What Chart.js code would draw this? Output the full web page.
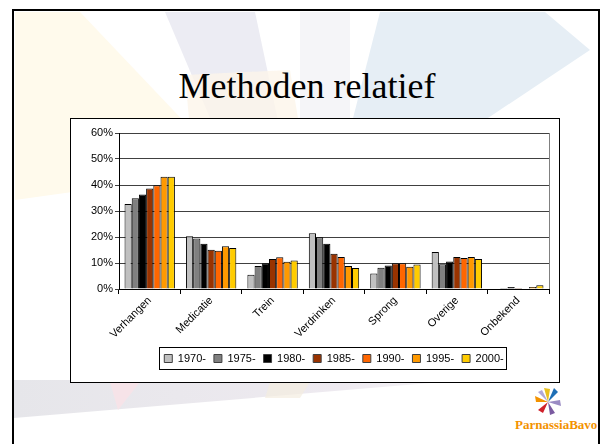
<!DOCTYPE html>
<html>
<head>
<meta charset="utf-8">
<script src="https://cdn.jsdelivr.net/npm/chart.js@4"></script>
<style>
  body { margin: 0; width: 602px; height: 444px; background: #fff; overflow: hidden; position: relative; }
  #bg { position: absolute; left: 0; top: 0; }
  #title { position: absolute; left: 13px; width: 588px; top: 65px; text-align: center;
           font-family: "Liberation Serif", "Times New Roman", serif; font-size: 36px; color: #000; }
  #box { position: absolute; left: 70px; top: 118px; width: 488px; height: 263px; border: 1px solid #000; background: #fff; }
  #logo { position: absolute; left: 515px; top: 417px; font-family: "Liberation Serif", serif; font-weight: bold;
          font-size: 13px; color: #f39200; }
</style>
</head>
<body>
<svg id="bg" width="602" height="444">
  <polygon points="15,12 80,12 230,170 15,200" fill="#fffaec"/>
  <polygon points="165,12 255,12 280,130 215,130" fill="#ececf3"/>
  <polygon points="185,75 290,70 300,130 190,130" fill="#fdf5ea" opacity="0.8"/>
  <polygon points="300,12 350,12 350,130 300,130" fill="#f5f5f8"/>
  <polygon points="380,12 545,12 590,50 470,130 350,130" fill="#e6eef5"/>
  <defs>
    <linearGradient id="band" x1="0" y1="0" x2="1" y2="0">
      <stop offset="0" stop-color="#e6e6ea"/>
      <stop offset="0.6" stop-color="#eeeaf0"/>
      <stop offset="1" stop-color="#ffffff"/>
    </linearGradient>
  </defs>
  <polygon points="14,380 560,380 560,382 430,383 14,418" fill="url(#band)"/>
  <polygon points="110,382 140,382 118,410" fill="#f6e3e8"/>
  <polygon points="270,382 310,382 300,398 265,398" fill="#f4ece0" opacity="0.7"/>
  <rect x="13" y="10" width="586" height="440" fill="none" stroke="#000" stroke-width="2"/>
  <!-- logo star -->
  <g transform="translate(548,402)">
    <polygon points="0,0 6,-14 10,-10" fill="#1f6fb5"/>
    <polygon points="0,0 -4,-14 2,-13" fill="#e8c020"/>
    <polygon points="0,0 -13,-6 -12,0" fill="#f39200"/>
    <polygon points="0,0 -10,8 -5,11" fill="#d0202a"/>
    <polygon points="0,0 2,13 7,11" fill="#7a5aa0"/>
    <polygon points="0,0 13,4 12,-2" fill="#9b8cc4"/>
    <polygon points="0,0 -10,-10 -6,-12" fill="#b0a8d8"/>
  </g>
</svg>
<div id="title">Methoden relatief</div>
<div id="box"><canvas id="chart" width="488" height="263"></canvas></div>
<div id="logo">ParnassiaBavo</div>
<script>
const categories = ['Verhangen', 'Medicatie', 'Trein', 'Verdrinken', 'Sprong', 'Overige', 'Onbekend'];
const periods = ['1970-', '1975-', '1980-', '1985-', '1990-', '1995-', '2000-'];
const colors = ['#c0c0c0', '#808080', '#000000', '#993300', '#ff6600', '#ff9900', '#ffcc00'];

const v1970 = [32.7, 20.3, 5.5, 21.4, 6.0, 14.2, 0.0];
const v1975 = [34.9, 19.4, 8.8, 19.9, 8.2, 9.5, 0.4];
const v1980 = [36.3, 17.4, 9.9, 17.4, 9.0, 10.6, 0.8];
const v1985 = [38.7, 15.1, 11.5, 13.6, 9.9, 12.3, 0.4];
const v1990 = [39.9, 14.7, 12.2, 12.3, 9.9, 11.9, 0.0];
const v1995 = [43.2, 16.4, 10.5, 8.8, 8.6, 12.3, 0.8];
const v2000 = [43.2, 15.8, 11.0, 8.1, 9.4, 11.5, 1.4];
const series = [v1970, v1975, v1980, v1985, v1990, v1995, v2000];

const datasets = series.map((vals, i) => ({
    label: periods[i],
    data: vals,
    backgroundColor: colors[i],
    borderColor: '#000',
    borderWidth: 1,
    categoryPercentage: 0.82,
    barPercentage: 1.0
}));

// frame round the legend and right edge of the plot
const extras = {
    id: 'extras',
    afterDraw(chart) {
        const ctx = chart.ctx;
        const a = chart.chartArea;
        ctx.save();
        ctx.strokeStyle = '#808080';
        ctx.lineWidth = 1;
        ctx.beginPath();
        ctx.moveTo(Math.round(a.right) + 0.5, a.top);
        ctx.lineTo(Math.round(a.right) + 0.5, a.bottom);
        ctx.stroke();
        const hb = chart.legend.legendHitBoxes;
        if (hb && hb.length) {
            const l = Math.min(...hb.map(b => b.left)) - 5;
            const r = Math.max(...hb.map(b => b.left + b.width)) + 3;
            const t = Math.min(...hb.map(b => b.top)) - 6;
            const bt = Math.max(...hb.map(b => b.top + b.height)) + 5;
            ctx.strokeStyle = '#000';
            ctx.strokeRect(Math.round(l) + 0.5, Math.round(t) + 0.5, Math.round(r - l), Math.round(bt - t));
        }
        ctx.restore();
    }
};

new Chart(document.getElementById('chart'), {
    type: 'bar',
    data: { labels: categories, datasets: datasets },
    options: {
        responsive: false,
        animation: false,
        layout: { padding: { left: 0, right: 10, top: 14, bottom: 8 } },
        plugins: {
            legend: {
                position: 'bottom',
                fullSize: false,
                labels: {
                    boxWidth: 8, boxHeight: 8, padding: 8,
                    color: '#000',
                    font: { family: 'Arial, "Liberation Sans"', size: 11 },
                    generateLabels(chart) {
                        return chart.data.datasets.map((d, i) => ({
                            text: d.label, fillStyle: d.backgroundColor, strokeStyle: '#404040',
                            lineWidth: 1, datasetIndex: i, hidden: false
                        }));
                    }
                }
            },
            tooltip: { enabled: false }
        },
        scales: {
            x: {
                grid: { display: true, drawOnChartArea: false, drawTicks: true, tickLength: 5, color: '#000', offset: true },
                border: { color: '#000' },
                ticks: {
                    color: '#000', minRotation: 45, maxRotation: 45, padding: 0,
                    font: { family: 'Arial, "Liberation Sans"', size: 11 }
                },
                afterFit(scale) { scale.height = 56; }
            },
            y: {
                min: 0, max: 60,
                grid: { color: '#404040', tickLength: 4 },
                border: { color: '#000' },
                ticks: {
                    stepSize: 10, color: '#000', padding: 2,
                    font: { family: 'Arial, "Liberation Sans"', size: 11 },
                    callback: v => v + '%'
                },
                afterFit(scale) { scale.width = 48; }
            }
        }
    },
    plugins: [extras]
});
</script>
</body>
</html>
